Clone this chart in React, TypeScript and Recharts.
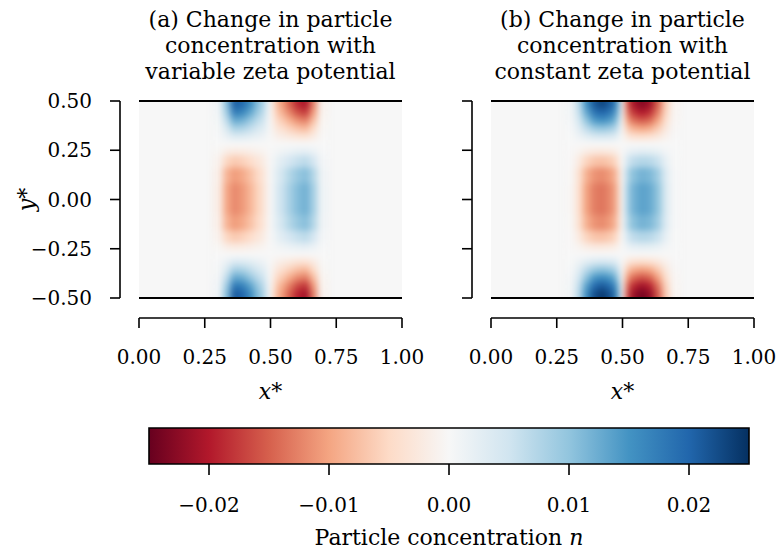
import React from 'react';
import { ScatterChart, Scatter, XAxis, YAxis, ReferenceArea, ReferenceLine } from 'recharts';

// ---------- data ----------
// cell edges of the concentration field (x* and y*)
const X_EDGES = [0.28, 0.32, 0.35, 0.38, 0.41, 0.44, 0.47, 0.49, 0.51, 0.53, 0.56, 0.59, 0.62, 0.65, 0.68, 0.72];
const Y_EDGES = [0.5, 0.46, 0.42, 0.38, 0.34, 0.3, 0.26, 0.22, 0.16, 0.08, -0.08, -0.16, -0.22, -0.26, -0.3, -0.34, -0.38, -0.42, -0.46, -0.5];
const UNIT = 0.001; // grid values are in units of 1e-3

// (a) variable zeta potential, rows from y*=0.5 downwards
const N_VARIABLE = [
  [1, 10.3, 20.5, 19.5, 15.4, 10.3, 6.2, 0, -6.2, -10.3, -14.8, -18.9, -20.5, -12.3, -1],
  [0.9, 8.7, 17.4, 16.5, 13, 8.7, 5.2, 0, -5.2, -8.7, -12.5, -16, -17.4, -10.4, -0.9],
  [0.6, 6.4, 12.7, 12.1, 9.5, 6.4, 3.8, 0, -3.8, -6.4, -9.1, -11.7, -12.7, -7.6, -0.6],
  [0.4, 4.1, 8.2, 7.8, 6.2, 4.1, 2.5, 0, -2.5, -4.1, -5.9, -7.5, -8.2, -4.9, -0.4],
  [0.2, 1.9, 3.7, 3.5, 2.8, 1.9, 1.1, 0, -1.1, -1.9, -2.7, -3.4, -3.7, -2.2, -0.2],
  [0, 0, 0, 0, 0, 0, 0, 0, 0, 0, 0, 0, 0, 0, 0],
  [-0.4, -1.9, -2.4, -2.2, -1.7, -1.1, -0.5, 0, 0.5, 1.1, 1.7, 2.2, 2.4, 1.7, 0.2],
  [-1, -5.3, -6.6, -5.9, -4.6, -3, -1.5, 0, 1.5, 3, 4.6, 5.9, 6.6, 4.6, 0.7],
  [-1.6, -8.5, -10.6, -9.5, -7.4, -4.8, -2.3, 0, 2.3, 4.8, 7.4, 9.5, 10.6, 7.4, 1.1],
  [-1.8, -9.6, -12, -10.8, -8.4, -5.4, -2.6, 0, 2.6, 5.4, 8.4, 10.8, 12, 8.4, 1.2],
  [-1.6, -8.5, -10.6, -9.5, -7.4, -4.8, -2.3, 0, 2.3, 4.8, 7.4, 9.5, 10.6, 7.4, 1.1],
  [-1, -5.3, -6.6, -5.9, -4.6, -3, -1.5, 0, 1.5, 3, 4.6, 5.9, 6.6, 4.6, 0.7],
  [-0.4, -1.9, -2.4, -2.2, -1.7, -1.1, -0.5, 0, 0.5, 1.1, 1.7, 2.2, 2.4, 1.7, 0.2],
  [0, 0, 0, 0, 0, 0, 0, 0, 0, 0, 0, 0, 0, 0, 0],
  [0.2, 1.9, 3.8, 3.6, 2.9, 1.9, 1.1, 0, -1.1, -1.9, -2.7, -3.5, -3.8, -2.3, -0.2],
  [0.4, 4.2, 8.4, 8, 6.3, 4.2, 2.5, 0, -2.5, -4.2, -6, -7.7, -8.4, -5, -0.4],
  [0.7, 6.5, 13, 12.4, 9.8, 6.5, 3.9, 0, -3.9, -6.5, -9.4, -12, -13, -7.8, -0.7],
  [0.9, 9, 17.9, 17, 13.4, 9, 5.4, 0, -5.4, -9, -12.9, -16.5, -17.9, -10.7, -0.9],
  [1, 10.5, 21, 20, 15.8, 10.5, 6.3, 0, -6.3, -10.5, -15.1, -19.3, -21, -12.6, -1],
];

// (b) constant zeta potential, rows from y*=0.5 downwards
const N_CONSTANT = [
  [0.7, 6.4, 15, 21.2, 23, 20.7, 15, 0, -15, -20.7, -23, -21.2, -15, -6.4, -0.7],
  [0.6, 5.6, 13, 18.4, 20, 18, 13, 0, -13, -18, -20, -18.4, -13, -5.6, -0.6],
  [0.5, 4.3, 10.1, 14.3, 15.5, 14, 10.1, 0, -10.1, -14, -15.5, -14.3, -10.1, -4.3, -0.5],
  [0.3, 2.8, 6.5, 9.2, 10, 9, 6.5, 0, -6.5, -9, -10, -9.2, -6.5, -2.8, -0.3],
  [0.1, 1.3, 2.9, 4.1, 4.5, 4.1, 2.9, 0, -2.9, -4.1, -4.5, -4.1, -2.9, -1.3, -0.1],
  [0, 0, 0, 0, 0, 0, 0, 0, 0, 0, 0, 0, 0, 0, 0],
  [-0.1, -0.8, -2, -2.6, -2.7, -2.4, -1.6, 0, 1.6, 2.4, 2.7, 2.6, 2, 0.8, 0.1],
  [-0.1, -2.2, -5.6, -7, -7.4, -6.5, -4.4, 0, 4.4, 6.5, 7.4, 7, 5.6, 2.2, 0.1],
  [-0.2, -3.6, -8.9, -11.3, -11.9, -10.5, -7.1, 0, 7.1, 10.5, 11.9, 11.3, 8.9, 3.6, 0.2],
  [-0.3, -4, -10.1, -12.8, -13.5, -11.9, -8.1, 0, 8.1, 11.9, 13.5, 12.8, 10.1, 4, 0.3],
  [-0.2, -3.6, -8.9, -11.3, -11.9, -10.5, -7.1, 0, 7.1, 10.5, 11.9, 11.3, 8.9, 3.6, 0.2],
  [-0.1, -2.2, -5.6, -7, -7.4, -6.5, -4.4, 0, 4.4, 6.5, 7.4, 7, 5.6, 2.2, 0.1],
  [-0.1, -0.8, -2, -2.6, -2.7, -2.4, -1.6, 0, 1.6, 2.4, 2.7, 2.6, 2, 0.8, 0.1],
  [0, 0, 0, 0, 0, 0, 0, 0, 0, 0, 0, 0, 0, 0, 0],
  [0.1, 1.3, 2.9, 4.1, 4.5, 4.1, 2.9, 0, -2.9, -4.1, -4.5, -4.1, -2.9, -1.3, -0.1],
  [0.3, 2.9, 6.8, 9.7, 10.5, 9.5, 6.8, 0, -6.8, -9.5, -10.5, -9.7, -6.8, -2.9, -0.3],
  [0.5, 4.5, 10.4, 14.7, 16, 14.4, 10.4, 0, -10.4, -14.4, -16, -14.7, -10.4, -4.5, -0.5],
  [0.6, 5.9, 13.7, 19.3, 21, 18.9, 13.7, 0, -13.7, -18.9, -21, -19.3, -13.7, -5.9, -0.6],
  [0.7, 6.7, 15.6, 22.1, 24, 21.6, 15.6, 0, -15.6, -21.6, -24, -22.1, -15.6, -6.7, -0.7],
];

const X_TICKS = [0, 0.25, 0.5, 0.75, 1];
const Y_TICKS = [-0.5, -0.25, 0, 0.25, 0.5];
const CBAR_TICKS = [-0.02, -0.01, 0, 0.01, 0.02];
const V_MIN = -0.025;
const V_MAX = 0.025;
const TITLE_A = ['(a) Change in particle', 'concentration with', 'variable zeta potential'];
const TITLE_B = ['(b) Change in particle', 'concentration with', 'constant zeta potential'];

// ---------- style ----------
const RDBU = ['#67001f', '#b2182b', '#d6604d', '#f4a582', '#fddbc7', '#f7f7f7', '#d1e5f0', '#92c5de', '#4393c3', '#2166ac', '#053061'];
const FONT = "'DejaVu Serif', serif";
const TICK_FS = 20;
const LABEL_FS = 22;
const PLOT_W = 263;
const PLOT_H = 197;
const PLOT_TOP = 101;
const Y_SPINE_OFFSET = 19;
const X_SPINE_OFFSET = 20;
const YAXIS_W = 100;
const XAXIS_H = 100;

function hexToRgb(h: string) {
  return [parseInt(h.slice(1, 3), 16), parseInt(h.slice(3, 5), 16), parseInt(h.slice(5, 7), 16)];
}
function colorOf(v: number) {
  let t = (v - V_MIN) / (V_MAX - V_MIN);
  t = Math.max(0, Math.min(1, t));
  const p = t * (RDBU.length - 1);
  const i = Math.min(RDBU.length - 2, Math.floor(p));
  const f = p - i;
  const a = hexToRgb(RDBU[i]);
  const b = hexToRgb(RDBU[i + 1]);
  const c = a.map((av, k) => Math.round(av + (b[k] - av) * f));
  return `rgb(${c[0]},${c[1]},${c[2]})`;
}
const fmt = (v: number) => (v < 0 ? '\u2212' : '') + Math.abs(v).toFixed(2);

const makeXTick = (dyBase: number) => (p: any) => (
  <text x={p.x} y={p.y + dyBase} textAnchor="middle" fontFamily={FONT} fontSize={TICK_FS} fill="#000">
    {fmt(p.payload.value)}
  </text>
);
const YTick = (p: any) => (
  <text x={p.x - 37} y={p.y + 7} textAnchor="end" fontFamily={FONT} fontSize={TICK_FS} fill="#000">
    {fmt(p.payload.value)}
  </text>
);
const NoTick = () => <g />;

function Heatmap({ left, grid }: { left: number; grid: number[][] }) {
  const M = 14;
  const nRows = grid.length;
  const cells: any[] = [];
  grid.forEach((row, r) =>
    row.forEach((val, c) => {
      cells.push({
        key: `${r}-${c}`,
        x1: X_EDGES[c],
        x2: X_EDGES[c + 1],
        y1: Y_EDGES[r + 1],
        y2: Y_EDGES[r],
        fill: colorOf(val * UNIT),
        top: r === 0,
        bottom: r === nRows - 1,
      });
    })
  );
  return (
    <div style={{ position: 'absolute', left, top: PLOT_TOP, width: PLOT_W, height: PLOT_H, overflow: 'hidden', background: colorOf(0) }}>
      <div style={{ position: 'absolute', left: -M, top: -M, filter: 'blur(3px)' }}>
        <ScatterChart width={PLOT_W + 2 * M} height={PLOT_H + 2 * M} margin={{ top: M, right: M, bottom: M, left: M }}>
          <XAxis type="number" dataKey="x" domain={[0, 1]} hide allowDataOverflow />
          <YAxis type="number" dataKey="y" domain={[-0.5, 0.5]} hide allowDataOverflow />
          <Scatter data={[]} isAnimationActive={false} />
          {cells.map((cell) => (
            <ReferenceArea
              key={cell.key}
              x1={cell.x1}
              x2={cell.x2}
              y1={cell.y1}
              y2={cell.y2}
              fill={cell.fill}
              fillOpacity={1}
              stroke="none"
              shape={(p: any) => {
                const ext0 = cell.top ? M : 0;
                const ext1 = cell.bottom ? M : 0;
                return (
                  <rect
                    x={p.x - 0.4}
                    y={p.y - ext0 - 0.4}
                    width={p.width + 0.8}
                    height={p.height + ext0 + ext1 + 0.8}
                    fill={cell.fill}
                  />
                );
              }}
            />
          ))}
        </ScatterChart>
      </div>
    </div>
  );
}

function PanelAxes({ left, title, showYLabels }: { left: number; title: string[]; showYLabels: boolean }) {
  const H = 420;
  const axisStroke = { stroke: '#000', strokeWidth: 1.6 };
  return (
    <div className="panel-axes" style={{ position: 'absolute', left: 0, top: 0 }}>
      <ScatterChart
        width={777}
        height={H}
        margin={{ top: PLOT_TOP, left: left - YAXIS_W, right: 777 - left - PLOT_W, bottom: H - PLOT_TOP - PLOT_H - XAXIS_H }}
      >
        <XAxis
          type="number"
          dataKey="x"
          domain={[0, 1]}
          allowDataOverflow
          ticks={X_TICKS}
          interval={0}
          height={XAXIS_H}
          tickSize={10}
          tickMargin={0}
          axisLine={axisStroke}
          tickLine={axisStroke}
          tick={makeXTick(56)}
          label={{
            content: (p: any) => (
              <text
                x={p.viewBox.x + p.viewBox.width / 2}
                y={p.viewBox.y + 81}
                textAnchor="middle"
                fontFamily={FONT}
                fontSize={LABEL_FS}
                fill="#000"
              >
                <tspan fontStyle="italic">x</tspan>
                <tspan>*</tspan>
              </text>
            ),
          }}
        />
        <YAxis
          type="number"
          dataKey="y"
          domain={[-0.5, 0.5]}
          allowDataOverflow
          ticks={Y_TICKS}
          interval={0}
          width={YAXIS_W}
          tickSize={10}
          tickMargin={0}
          axisLine={axisStroke}
          tickLine={axisStroke}
          tick={showYLabels ? YTick : NoTick}
          label={
            showYLabels
              ? {
                  content: (p: any) => {
                    const cx = p.viewBox.x + 14;
                    const cy = p.viewBox.y + p.viewBox.height / 2;
                    return (
                      <text
                        x={cx}
                        y={cy}
                        transform={`rotate(-90 ${cx} ${cy})`}
                        textAnchor="middle"
                        fontFamily={FONT}
                        fontSize={LABEL_FS}
                        fill="#000"
                      >
                        <tspan fontStyle="italic">y</tspan>
                        <tspan>*</tspan>
                      </text>
                    );
                  },
                }
              : undefined
          }
        />
        <Scatter data={[{ x: 0.5, y: 0 }]} isAnimationActive={false} fill="none" shape={() => <g />} />
        <ReferenceLine
          y={0.5}
          stroke="#000"
          strokeWidth={2}
          ifOverflow="visible"
          label={{
            content: (p: any) => {
              const cx = p.viewBox.x + p.viewBox.width / 2;
              return (
                <text textAnchor="middle" fontFamily={FONT} fontSize={LABEL_FS} fill="#000">
                  {title.map((line, i) => (
                    <tspan key={i} x={cx} y={p.viewBox.y - 74 + i * 26}>
                      {line}
                    </tspan>
                  ))}
                </text>
              );
            },
          }}
        />
        <ReferenceLine y={-0.5} stroke="#000" strokeWidth={2} ifOverflow="visible" />
      </ScatterChart>
    </div>
  );
}

function ColorBar() {
  const top = 420;
  const H = 140;
  const barTop = 428 - top;
  const barH = 36;
  const XH = 94;
  return (
    <div style={{ position: 'absolute', left: 0, top }}>
      <ScatterChart width={777} height={H} margin={{ top: barTop, left: 149, right: 28, bottom: H - barTop - barH - XH }}>
        <defs>
          <linearGradient id="cbarGrad" x1="0" y1="0" x2="1" y2="0">
            {RDBU.map((c, i) => (
              <stop key={i} offset={`${(i / (RDBU.length - 1)) * 100}%`} stopColor={c} />
            ))}
          </linearGradient>
        </defs>
        <XAxis
          type="number"
          dataKey="x"
          domain={[V_MIN, V_MAX]}
          allowDataOverflow
          ticks={CBAR_TICKS}
          interval={0}
          height={XH}
          tickSize={11}
          tickMargin={0}
          axisLine={false}
          tickLine={{ stroke: '#000', strokeWidth: 1.6 }}
          tick={makeXTick(37)}
          label={{
            content: (p: any) => (
              <text
                x={p.viewBox.x + p.viewBox.width / 2}
                y={p.viewBox.y + 81}
                textAnchor="middle"
                fontFamily={FONT}
                fontSize={LABEL_FS}
                fill="#000"
              >
                <tspan>Particle concentration </tspan>
                <tspan fontStyle="italic">n</tspan>
              </text>
            ),
          }}
        />
        <YAxis type="number" dataKey="y" domain={[0, 1]} allowDataOverflow hide />
        <Scatter data={[{ x: 0, y: 0.5 }]} isAnimationActive={false} fill="none" shape={() => <g />} />
        <ReferenceArea
          x1={V_MIN}
          x2={V_MAX}
          y1={0}
          y2={1}
          fill="url(#cbarGrad)"
          fillOpacity={1}
          stroke="#000"
          strokeWidth={1.6}
        />
      </ScatterChart>
    </div>
  );
}

export default function App() {
  return (
    <div style={{ position: 'absolute', left: 0, top: 0, width: 777, height: 550, background: '#fff', fontFamily: FONT }}>
      <style>{`
        .panel-axes .recharts-yAxis { transform: translateX(-${Y_SPINE_OFFSET}px); }
        .panel-axes .recharts-xAxis { transform: translateY(${X_SPINE_OFFSET}px); }
      `}</style>
      <Heatmap left={139} grid={N_VARIABLE} />
      <Heatmap left={491} grid={N_CONSTANT} />
      <PanelAxes left={139} title={TITLE_A} showYLabels={true} />
      <PanelAxes left={491} title={TITLE_B} showYLabels={false} />
      <ColorBar />
    </div>
  );
}
